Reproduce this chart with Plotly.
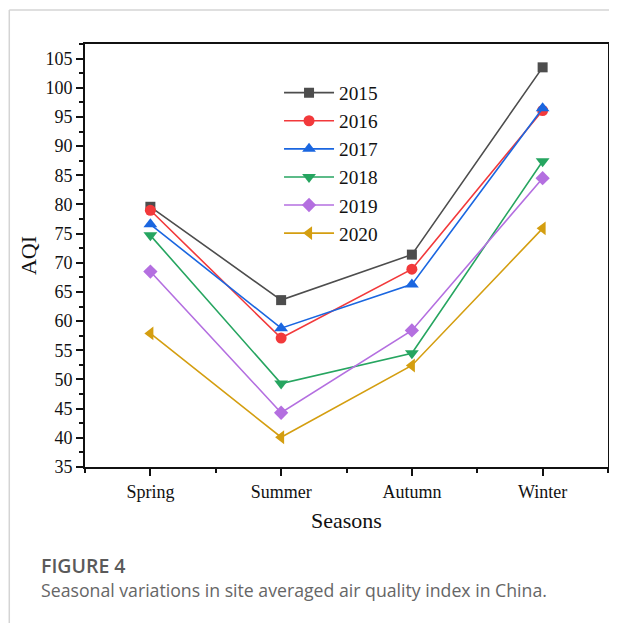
import plotly.graph_objects as go

seasons = ["Spring", "Summer", "Autumn", "Winter"]
years = ["2015", "2016", "2017", "2018", "2019", "2020"]
aqi_2015 = [79.6, 63.6, 71.4, 103.5]
aqi_2016 = [79.0, 57.1, 68.9, 96.1]
aqi_2017 = [76.6, 58.8, 66.3, 96.5]
aqi_2018 = [74.7, 49.3, 54.5, 87.4]
aqi_2019 = [68.5, 44.3, 58.4, 84.5]
aqi_2020 = [57.9, 40.1, 52.4, 75.9]

series = [aqi_2015, aqi_2016, aqi_2017, aqi_2018, aqi_2019, aqi_2020]
colors = ["#4d4d4d", "#f2393b", "#1a66e0", "#26a560", "#b46fe0", "#d49e10"]
symbols = ["square", "circle", "triangle-up", "triangle-down", "diamond", "triangle-left"]
sizes = [10, 11, 12, 12, 11, 12]

xpos = list(range(1, len(seasons) + 1))
serif = "Liberation Serif"

# page body has an 8px margin: figure drawn at (8,8) in the 617x623 window
W, H = 609, 615
L, T, R, B = 77, 36, 7, 156.3
PW, PH = W - L - R, H - T - B

def px(xd):
    return (xd - L) / PW

def py(yd):
    return (H - B - yd) / PH

fig = go.Figure()
for name, vals, c, s, sz in zip(years, series, colors, symbols, sizes):
    fig.add_trace(go.Scatter(
        x=xpos, y=vals, name=name, mode="lines+markers",
        line=dict(color=c, width=1.6),
        marker=dict(symbol=s, size=sz, color=c),
    ))

fig.update_layout(
    width=W, height=H,
    margin=dict(l=L, r=R, t=T, b=B, pad=0),
    paper_bgcolor="white", plot_bgcolor="white",
    showlegend=True,
    legend=dict(x=0.371, y=0.93, xanchor="left", yanchor="top",
                font=dict(family=serif, size=19.3, color="#111"),
                bgcolor="rgba(0,0,0,0)", tracegroupgap=0, itemwidth=50),
    font=dict(family=serif, color="#111", size=17),
)

fig.update_xaxes(
    range=[0.5, 4.5], tickmode="array", tickvals=xpos, ticktext=seasons,
    ticks="outside", ticklen=7, tickwidth=1.5, tickcolor="#111",
    showline=True, linecolor="#111", linewidth=2, mirror=True,
    showgrid=False, zeroline=False,
    tickfont=dict(family=serif, size=18, color="#111"),
    minor=dict(tickvals=[0.5, 1.5, 2.5, 3.5, 4.5], ticks="outside", ticklen=4,
               tickwidth=1.5, tickcolor="#111", showgrid=False),
    title=dict(text="Seasons", font=dict(family=serif, size=22, color="#111"), standoff=12),
)
fig.update_yaxes(
    range=[35, 107.5], tickmode="linear", tick0=35, dtick=5,
    ticks="outside", ticklen=7, tickwidth=1.5, tickcolor="#111",
    showline=True, linecolor="#111", linewidth=2, mirror=True,
    showgrid=False, zeroline=False,
    tickfont=dict(family=serif, size=18, color="#111"),
    minor=dict(dtick=2.5, tick0=35, ticks="outside", ticklen=4, tickwidth=1.5,
               tickcolor="#111", showgrid=False),
    title=dict(text="AQI", font=dict(family=serif, size=22, color="#111"), standoff=3),
)

# page frame lines
fig.add_shape(type="line", xref="paper", yref="paper", x0=px(1), x1=px(W + 5),
              y0=py(2), y1=py(2), line=dict(color="#d4d4d4", width=1.5))
fig.add_shape(type="line", xref="paper", yref="paper", x0=px(1), x1=px(1),
              y0=py(H + 5), y1=py(2), line=dict(color="#d4d4d4", width=1.5))

fig.add_annotation(text="FIGURE 4", xref="paper", yref="paper",
                   x=px(31), y=py(557), xanchor="left", yanchor="middle", showarrow=False,
                   font=dict(family="Open Sans", size=19.5, color="#5a5a5a", weight=600))
fig.add_annotation(text="Seasonal variations in site averaged air quality index in China.",
                   xref="paper", yref="paper",
                   x=px(31), y=py(582), xanchor="left", yanchor="middle", showarrow=False,
                   font=dict(family="Open Sans", size=17.7, color="#666"))

fig.write_html("out.html")
